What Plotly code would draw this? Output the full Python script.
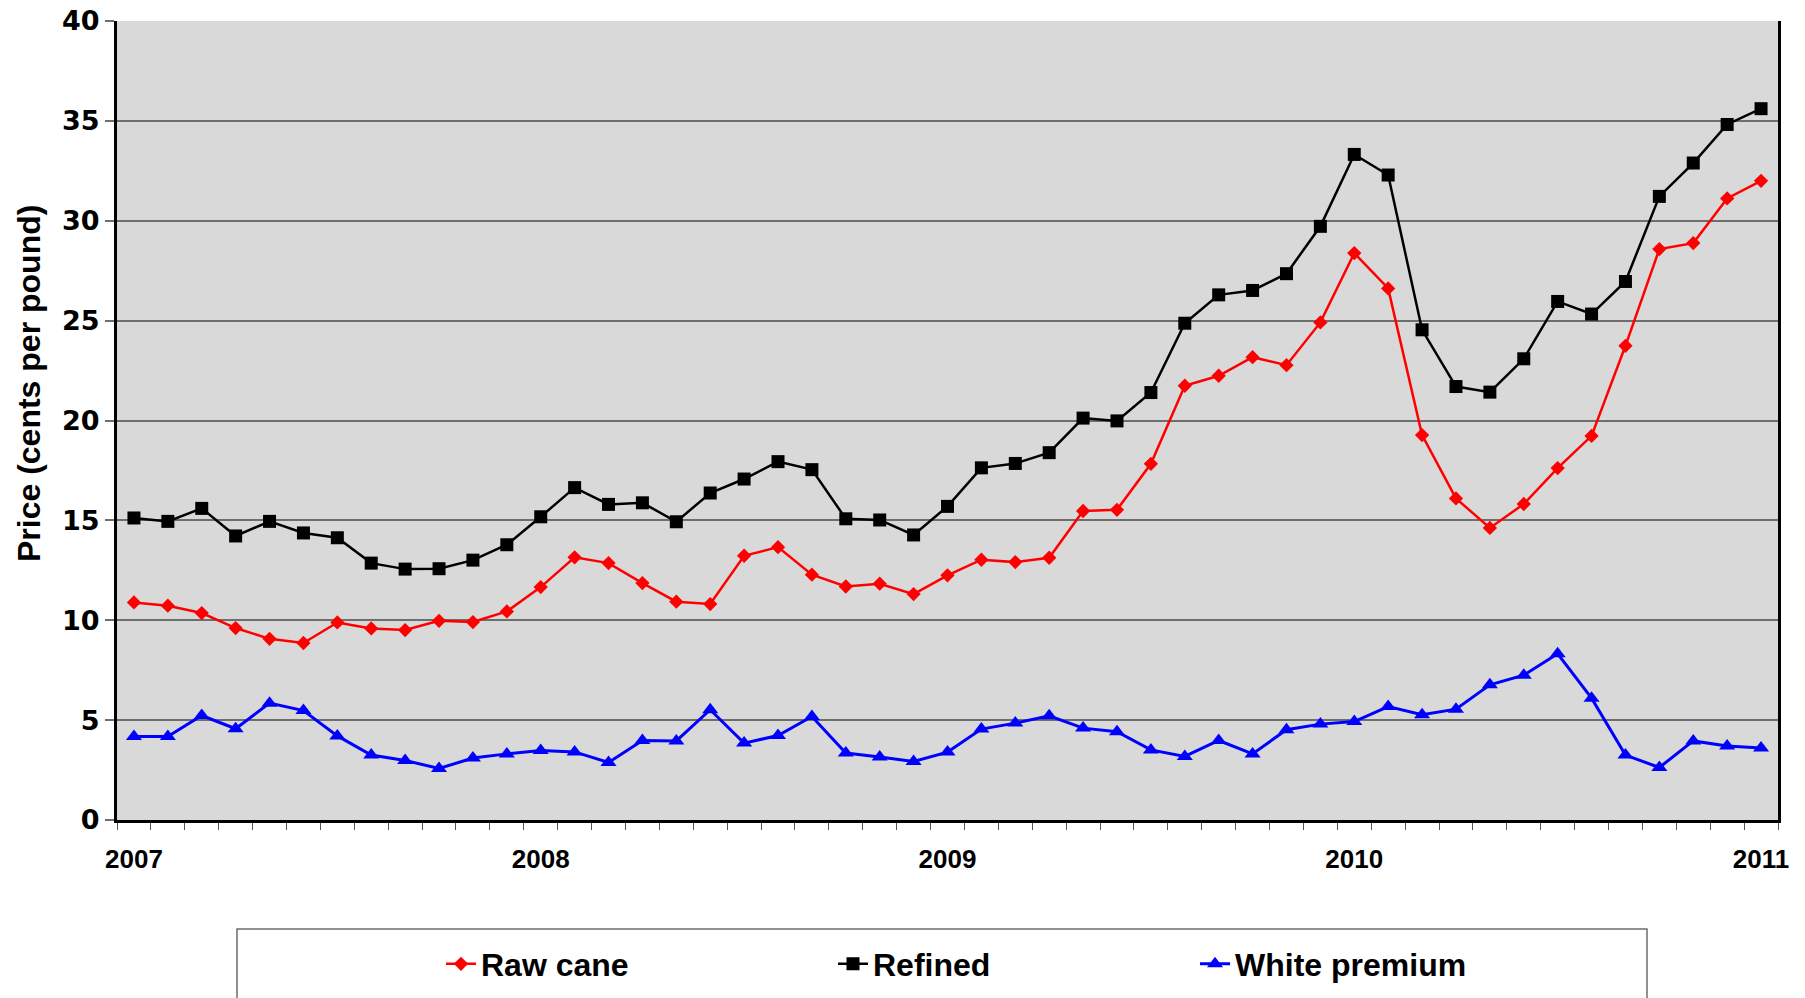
import plotly.graph_objects as go

# Monthly sugar prices, January 2007 through January 2011 (cents per pound)
months = list(range(49))
year_ticks = [0, 12, 24, 36, 48]
year_labels = ["2007", "2008", "2009", "2010", "2011"]

raw_cane = [10.89, 10.73, 10.36, 9.61, 9.07, 8.86, 9.89, 9.59, 9.51, 9.97, 9.91, 10.44,
            11.66, 13.15, 12.86, 11.86, 10.93, 10.81, 13.23, 13.66, 12.28, 11.69, 11.83, 11.31,
            12.25, 13.03, 12.91, 13.13, 15.47, 15.53, 17.83, 21.74, 22.24, 23.17, 22.77, 24.91,
            28.38, 26.61, 19.27, 16.10, 14.62, 15.82, 17.62, 19.23, 23.74, 28.58, 28.88, 31.12,
            32.00]

refined = [15.12, 14.95, 15.60, 14.22, 14.95, 14.37, 14.13, 12.86, 12.56, 12.58, 13.01, 13.78,
           15.18, 16.64, 15.80, 15.88, 14.93, 16.37, 17.07, 17.94, 17.54, 15.08, 15.02, 14.27,
           15.70, 17.63, 17.85, 18.39, 20.12, 19.98, 21.40, 24.87, 26.29, 26.51, 27.35, 29.72,
           33.32, 32.29, 24.54, 21.70, 21.42, 23.09, 25.96, 25.33, 26.96, 31.22, 32.89, 34.82,
           35.61]

white_premium = [4.18, 4.18, 5.23, 4.57, 5.85, 5.48, 4.21, 3.25, 2.98, 2.58, 3.10, 3.31,
                 3.48, 3.41, 2.88, 3.98, 3.96, 5.52, 3.85, 4.23, 5.18, 3.35, 3.15, 2.93,
                 3.40, 4.55, 4.85, 5.22, 4.60, 4.42, 3.51, 3.18, 3.98, 3.31, 4.52, 4.80,
                 4.93, 5.68, 5.27, 5.55, 6.77, 7.25, 8.32, 6.10, 3.25, 2.63, 3.96, 3.71,
                 3.60]

FONT = "Liberation Sans, Arial, sans-serif"
WIDE = "DejaVu Sans, Liberation Sans, sans-serif"

# plot area in pixels: x 117..1778, y 21..820
PX0, PW = 117, 1661
PY0, PH = 820, 799


def px_x(px):
    return (px - PX0) / PW


def px_y(py):
    return (PY0 - py) / PH


fig = go.Figure()
fig.add_trace(go.Scatter(
    x=months, y=raw_cane, name="Raw cane", mode="lines+markers", legend="legend",
    line=dict(color="#FF0000", width=2.5),
    marker=dict(symbol="diamond", size=11, color="#FF0000"),
))
fig.add_trace(go.Scatter(
    x=months, y=refined, name="Refined", mode="lines+markers", legend="legend2",
    line=dict(color="#000000", width=2.5),
    marker=dict(symbol="square", size=13, color="#000000"),
))
fig.add_trace(go.Scatter(
    x=months, y=white_premium, name="White premium", mode="lines+markers", legend="legend3",
    line=dict(color="#0000FF", width=3),
    marker=dict(symbol="triangle-up", size=14, color="#0000FF"),
))

# Legend frame, running off the bottom edge of the page
fig.add_shape(type="rect", xref="paper", yref="paper",
              x0=px_x(237), x1=px_x(1647), y0=px_y(1020), y1=px_y(929),
              line=dict(color="#6E6E6E", width=1.5), fillcolor="white", layer="below")

legend_common = dict(
    orientation="h", xanchor="left", yref="container", y=(998 - 964) / 998,
    yanchor="middle",
    font=dict(family=FONT, size=32, color="black", weight="bold"),
    bgcolor="rgba(0,0,0,0)", borderwidth=0,
)

fig.update_layout(
    width=1805, height=998,
    margin=dict(l=PX0, r=1805 - PX0 - PW, t=21, b=998 - PY0, autoexpand=False),
    paper_bgcolor="white",
    plot_bgcolor="#D9D9D9",
    font=dict(family=FONT, color="black", size=26, weight="bold"),
    showlegend=True,
    legend=dict(x=px_x(441), **legend_common),
    legend2=dict(x=px_x(833), **legend_common),
    legend3=dict(x=px_x(1195), **legend_common),
    xaxis=dict(
        range=[-0.5, 48.5],
        tickmode="array", tickvals=year_ticks, ticktext=year_labels,
        ticks="", ticklabelstandoff=14,
        tickfont=dict(family=FONT, size=26, color="black", weight="bold"),
        showgrid=False, zeroline=False,
        showline=True, linecolor="black", linewidth=3,
        minor=dict(tickmode="linear", tick0=-0.5, dtick=1, ticks="outside",
                   ticklen=7, tickwidth=1, tickcolor="#555555", showgrid=False),
    ),
    yaxis=dict(
        range=[0, 40], tickmode="linear", tick0=0, dtick=5,
        ticks="outside", ticklen=9, tickwidth=1.5, tickcolor="#6E6E6E",
        tickfont=dict(family=WIDE, size=27, color="black", weight="bold"),
        showgrid=True, gridcolor="#6E6E6E", gridwidth=1.5,
        zeroline=False,
        showline=True, linecolor="black", linewidth=3, mirror=True,
    ),
    annotations=[dict(
        text="Price (cents per pound)", textangle=-90,
        xref="paper", yref="paper", x=px_x(29), y=px_y(384),
        xanchor="center", yanchor="middle", showarrow=False,
        font=dict(family=FONT, size=32, color="black", weight="bold"),
    )],
)

fig.write_html("out.html")
